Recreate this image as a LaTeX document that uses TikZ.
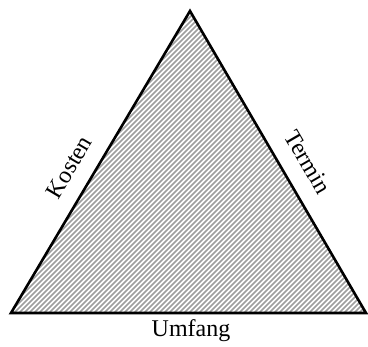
\documentclass[tikz,border=0pt]{standalone}
\usepackage{fontspec}
\setmainfont{Liberation Serif}
\begin{document}
\begin{tikzpicture}[x=1pt,y=-1pt,
  hatch/.style={draw=black!38,line width=1.5pt},
  edge/.style={draw=black,line width=2.6pt,line join=miter},
  lbl/.style={font=\fontsize{24}{28}\selectfont,inner sep=0pt}]
\useasboundingbox (0,0) rectangle (368,347);
\coordinate (A) at (11,313);
\coordinate (B) at (190,11);
\coordinate (C) at (366,313);
\begin{scope}
  \clip (A) -- (B) -- (C) -- cycle;
  \foreach \c in {-400,-395,...,400}{
    \draw[hatch] (\c,347) -- (\c+347,0);
  }
\end{scope}
\draw[edge] (A) -- (B) -- (C) -- cycle;
\node[lbl,rotate=59.3] (kosten) at (69,167) {Kosten};
\node[lbl,rotate=-59.8] (termin) at (308,162) {Termin};
\node[lbl] (umfang) at (191,331) {Umfang};
\end{tikzpicture}
\end{document}
